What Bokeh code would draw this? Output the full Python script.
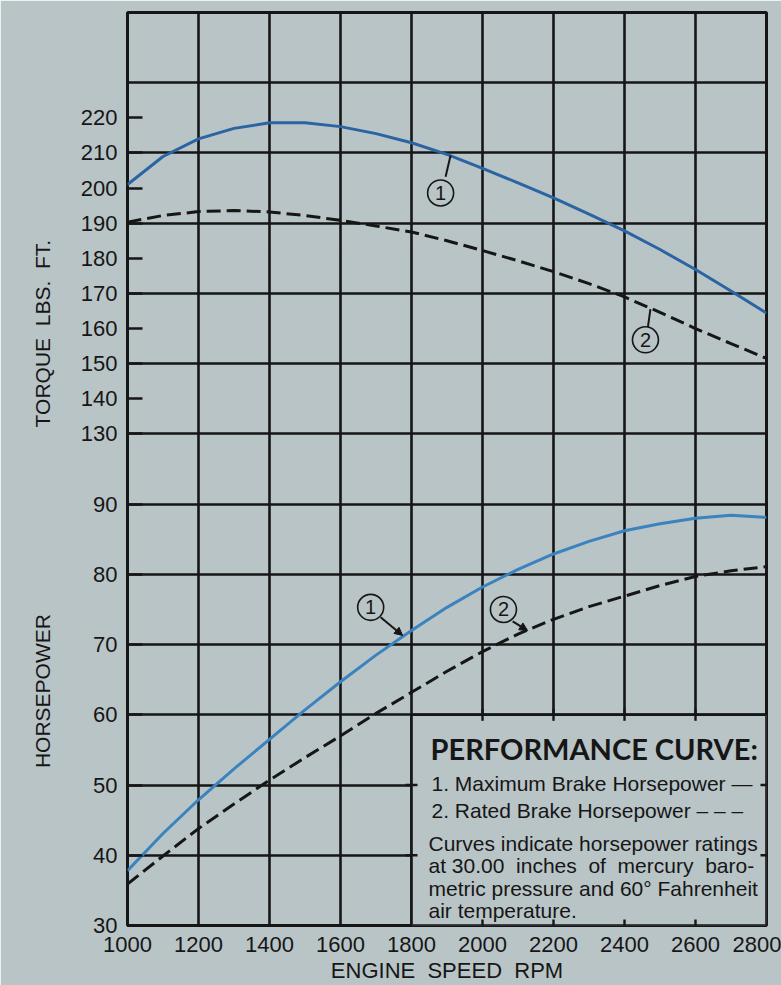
from math import pi
from bokeh.plotting import figure
from bokeh.models import Range1d, FixedTicker, Label, Arrow, NormalHead
from bokeh.core.properties import value
from bokeh.embed import file_html
from bokeh.resources import INLINE

# ---------------- data ----------------
rpm = [1000, 1100, 1200, 1300, 1400, 1500, 1600, 1700, 1800, 1900,
       2000, 2100, 2200, 2300, 2400, 2500, 2600, 2700, 2800]
torque_max = [201.0, 209.0, 214.0, 217.0, 218.6, 218.6, 217.5, 215.5, 212.9, 209.6,
              205.6, 201.5, 197.2, 192.6, 187.8, 182.5, 176.8, 170.7, 164.4]
torque_rated = [190.3, 192.2, 193.3, 193.6, 193.2, 192.2, 190.8, 189.2, 187.5, 185.0,
                182.2, 179.3, 176.2, 172.8, 169.0, 164.6, 160.0, 155.7, 151.5]
hp_max = [37.8, 43.1, 47.9, 52.3, 56.5, 60.7, 64.7, 68.5, 72.0, 75.3,
          78.2, 80.7, 82.9, 84.7, 86.2, 87.2, 88.0, 88.4, 88.1]
hp_rated = [35.9, 39.9, 43.8, 47.3, 50.7, 53.9, 57.0, 60.2, 63.2, 66.2,
            69.0, 71.5, 73.6, 75.4, 76.9, 78.4, 79.7, 80.5, 81.1]

x_ticks = [1000, 1200, 1400, 1600, 1800, 2000, 2200, 2400, 2600, 2800]
hp_ticks = [30, 40, 50, 60, 70, 80, 90]
torque_ticks = [130, 140, 150, 160, 170, 180, 190, 200, 210, 220]
torque_grid = [130, 150, 170, 190, 210, 230]

HP_RANGE = (30, 160)
TQ_RANGE = (-10, 250)

# callout positions (torque / hp)
t_callouts = {"label": ["1", "2"], "cx": [1882, 2459], "cy": [198.6, 156.8],
              "x0": [1896, 2466], "y0": [203.2, 160.5], "x1": [1910, 2473], "y1": [209.3, 165.5]}
h_callouts = {"label": ["1", "2"], "cx": [1685, 2059], "cy": [75.3, 75.0],
              "x0": [1713, 2085], "y0": [73.9, 73.3], "x1": [1775, 2127], "y1": [71.3, 72.0]}

BG = "#b9c4c7"
INK = "#161616"
BLUE_T = "#2b64a2"
BLUE_H = "#3a83bf"
FONT = "Liberation Sans"
NB = "\u00a0"


def tq_to_hp(t):
    return HP_RANGE[0] + (t - TQ_RANGE[0]) * (HP_RANGE[1] - HP_RANGE[0]) / (TQ_RANGE[1] - TQ_RANGE[0])


p = figure(width=781, height=985, output_backend="svg", toolbar_location=None,
           x_range=Range1d(x_ticks[0], x_ticks[-1]), y_range=Range1d(*HP_RANGE),
           min_border_left=127, min_border_right=15, min_border_top=12, min_border_bottom=58,
           background_fill_color=BG, border_fill_color=BG)
p.extra_y_ranges = {"torque": Range1d(*TQ_RANGE)}

p.outline_line_color = INK
p.outline_line_width = 3

# grid
p.xgrid.ticker = FixedTicker(ticks=x_ticks)
p.ygrid.ticker = FixedTicker(ticks=hp_ticks[1:] + [int(tq_to_hp(t)) for t in torque_grid])
for g in (p.xgrid, p.ygrid):
    g.grid_line_color = INK
    g.grid_line_width = 2.6
    g.grid_line_alpha = 1.0

# axes
yt = hp_ticks + [int(tq_to_hp(t)) for t in torque_ticks]
p.yaxis.ticker = FixedTicker(ticks=yt)
p.yaxis.major_label_overrides = {int(tq_to_hp(t)): str(t) for t in torque_ticks}
p.yaxis.major_tick_in = 15
p.yaxis.major_tick_out = 0
p.yaxis.major_tick_line_width = 2.6
p.yaxis.major_tick_line_color = INK
p.yaxis.major_label_standoff = 10
# two stacked titles on one rotated axis label (non-breaking spaces keep their place)
p.yaxis.axis_label = ("HORSEPOWER" + NB * 32 + NB.join(["TORQUE", "", "LBS.", "", "FT."]) + NB * 12)
p.yaxis.axis_label_standoff = 24

p.xaxis.ticker = FixedTicker(ticks=x_ticks)
p.xaxis.major_tick_in = 0
p.xaxis.major_tick_out = 0
p.xaxis.major_label_standoff = 11
p.xaxis.axis_label = NB.join(["ENGINE", "", "SPEED", "", "RPM"])
p.xaxis.axis_label_standoff = 3

for ax in (p.xaxis, p.yaxis):
    ax.axis_line_color = None
    ax.minor_tick_line_color = None
    ax.major_label_text_font = FONT
    ax.major_label_text_font_size = "22px"
    ax.major_label_text_color = INK
    ax.axis_label_text_font = FONT
    ax.axis_label_text_font_style = "normal"
    ax.axis_label_text_color = INK
p.xaxis.axis_label_text_font_size = "22px"
p.yaxis.axis_label_text_font_size = "21px"

# curves
p.line(rpm, torque_max, y_range_name="torque", line_color=BLUE_T, line_width=3)
p.line(rpm, torque_rated, y_range_name="torque", line_color=INK, line_width=3, line_dash="14 6")
p.line(rpm, hp_max, line_color=BLUE_H, line_width=3)
p.line(rpm, hp_rated, line_color=INK, line_width=3, line_dash="14 6")

# call-outs
p.segment(x0=t_callouts["x0"], y0=t_callouts["y0"], x1=t_callouts["x1"], y1=t_callouts["y1"],
          y_range_name="torque", line_color=INK, line_width=2)
p.scatter(x=t_callouts["cx"], y=t_callouts["cy"], y_range_name="torque", marker="circle",
          size=26, fill_color=None, line_color=INK, line_width=1.6)
p.text(x=t_callouts["cx"], y=t_callouts["cy"], text=t_callouts["label"], y_range_name="torque",
       text_align="center", text_baseline="middle", text_font=value(FONT),
       text_font_size="20px", text_color=INK)

for i in range(len(h_callouts["label"])):
    p.add_layout(Arrow(end=NormalHead(size=8, fill_color=INK, line_color=INK),
                       x_start=h_callouts["x0"][i], y_start=h_callouts["y0"][i],
                       x_end=h_callouts["x1"][i], y_end=h_callouts["y1"][i],
                       line_color=INK, line_width=2))
p.scatter(x=h_callouts["cx"], y=h_callouts["cy"], marker="circle",
          size=26, fill_color=None, line_color=INK, line_width=1.6)
p.text(x=h_callouts["cx"], y=h_callouts["cy"], text=h_callouts["label"],
       text_align="center", text_baseline="middle", text_font=value(FONT),
       text_font_size="20px", text_color=INK)

# legend box
box_left, box_right = x_ticks[4], x_ticks[-1]
box_bottom, box_top = hp_ticks[0], hp_ticks[3]
p.quad(left=box_left, right=box_right, bottom=box_bottom, top=box_top,
       fill_color=BG, line_color=INK, line_width=2.6)
p.scatter(x=[box_left, box_left, box_right, box_right], y=[hp_ticks[1], hp_ticks[2]] * 2,
          marker="dash", size=12, line_color=INK, line_width=2.4)
p.scatter(x=x_ticks[5:9], y=[box_bottom] * 4, marker="dash", angle=pi / 2,
          size=12, line_color=INK, line_width=2.4)
p.scatter(x=x_ticks[5:9], y=[box_top] * 4, marker="dash", angle=pi / 2,
          size=12, line_color=INK, line_width=2.4)

p.add_layout(Label(x=box_left, y=55.2, x_offset=19, text="PERFORMANCE CURVE:",
                   text_font="Lato", text_font_style="bold",
                   text_font_size="29px", text_color=INK, text_baseline="middle"))
box_lines = [
    ("1. Maximum Brake Horsepower \u2014", 50.2, 20),
    ("2. Rated Brake Horsepower \u2013 \u2013 \u2013", 46.4, 20),
    ("Curves indicate horsepower ratings", 41.65, 17),
    (NB.join(["at", "30.00", "", "inches", "", "of", "", "mercury", "", "baro-"]), 38.5, 17),
    ("metric pressure and 60\u00b0 Fahrenheit", 35.3, 17),
    ("air temperature.", 32.1, 17),
]
for txt, yy, xo in box_lines:
    p.add_layout(Label(x=box_left, y=yy, x_offset=xo, text=txt, text_font=FONT,
                       text_font_size="21px", text_color=INK, text_baseline="middle"))

open("out.html", "w").write(file_html(p, INLINE))
